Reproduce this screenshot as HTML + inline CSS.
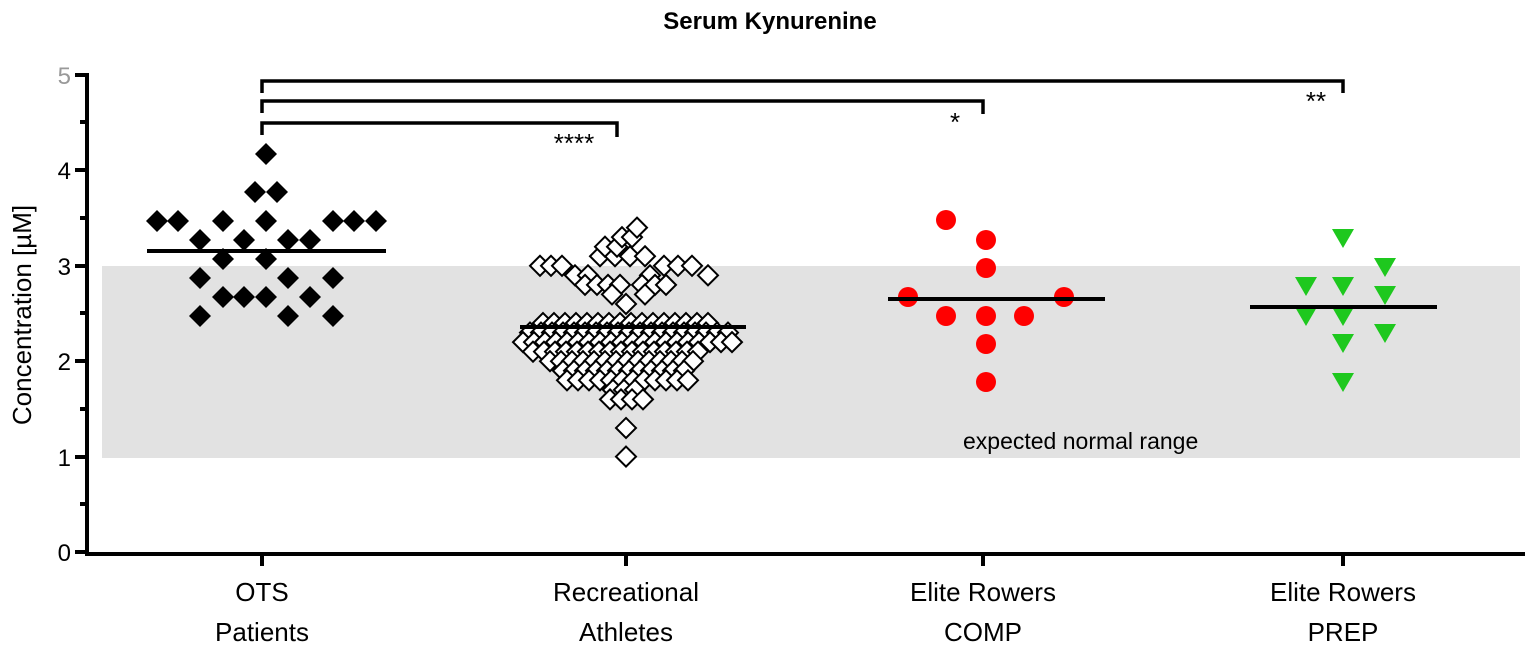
<!DOCTYPE html>
<html><head><meta charset="utf-8"><style>body{margin:0;background:#fff}svg{display:block}text{font-family:"Liberation Sans",sans-serif}</style></head>
<body>
<svg id="s" width="1535" height="647" viewBox="0 0 1535 647" xmlns="http://www.w3.org/2000/svg">
<rect x="102" y="266" width="1418" height="192" fill="#e2e2e2"/>
<text x="770" y="29" font-size="24" font-weight="bold" text-anchor="middle">Serum Kynurenine</text>
<g stroke="#000" stroke-width="4" fill="none">
<path d="M87 73V554H1525"/>
<path d="M75 552H87M75 457H87M75 361H87M75 266H87M75 170H87M75 75H87M80 504H87M80 409H87M80 313H87M80 218H87M80 122H87"/>
<path d="M262 554V566M626 554V566M983 554V566M1343 554V566"/>
</g>
<g stroke="#000" stroke-width="3.5" fill="none">
<path d="M262 93V81H1343V93M262 113V101H983V114M262 135V123H617V137"/>
</g>
<g font-size="24" text-anchor="end"><text x="71" y="561">0</text><text x="71" y="466">1</text><text x="71" y="370">2</text><text x="71" y="275">3</text><text x="71" y="179">4</text><text x="71" y="84" fill="#999">5</text></g>
<text transform="translate(31,315) rotate(-90)" font-size="26" text-anchor="middle">Concentration [µM]</text>
<g font-size="26" text-anchor="middle">
<text x="262" y="601">OTS</text><text x="262" y="641">Patients</text>
<text x="626" y="601">Recreational</text><text x="626" y="641">Athletes</text>
<text x="983" y="601">Elite Rowers</text><text x="983" y="641">COMP</text>
<text x="1343" y="601">Elite Rowers</text><text x="1343" y="641">PREP</text>
</g>
<text x="963" y="449" font-size="23">expected normal range</text>
<g font-size="26" text-anchor="middle"><text x="574" y="152">****</text><text x="955" y="131">*</text><text x="1316" y="110">**</text></g>
<g id="pts"></g>
<g stroke="#000" stroke-width="4"><path d="M147 251H386M520 327H746M888 299H1105M1250 307H1437"/></g>
</svg>
<script>
var g=document.getElementById('pts'),h='';
function y(v){return 552-95.4*v}
function fd(x,yy){h+='<path d="M'+x+' '+(yy-11)+'l11 11l-11 11l-11-11z" fill="#000"/>';}
function od(x,yy){h+='<path d="M'+x+' '+(yy-10)+'l10 10l-10 10l-10-10z" fill="#fff" stroke="#000" stroke-width="2"/>';}
[[266,154],[255,192],[277,192]].forEach(p=>fd(p[0],p[1]));
[157,178,223,266,333,354,376].forEach(x=>fd(x,221));
[200,244,288,310].forEach(x=>fd(x,240));
[223,266].forEach(x=>fd(x,259));
[200,288,333].forEach(x=>fd(x,278));
[223,244,266,310].forEach(x=>fd(x,297));
[200,288,333].forEach(x=>fd(x,316));
var rows=[[2.4,543,710],[2.3,530,730],[2.2,523,740],[2.1,533,707],[2.0,550,697],[1.9,563,687],[1.8,567,687],[1.7,613,640],[1.6,610,643]];
rows.forEach(r=>{for(var x=r[1];x<=r[2]+1;x+=11)od(x,y(r[0]));});
od(626,y(1.3));od(626,y(1.0));
[[540,3.0],[551,3.0],[562,3.0],[664,3.0],[678,3.0],[692,3.0],[575,2.9],[588,2.9],[650,2.9],[708,2.9],[585,2.8],[597,2.8],[608,2.8],[620,2.8],[642,2.8],[655,2.8],[666,2.8],[600,3.1],[615,3.1],[630,3.1],[645,3.1],[605,3.2],[617,3.2],[622,3.3],[632,3.3],[637,3.4],[612,2.7],[645,2.7],[626,2.6]].forEach(p=>od(p[0],y(p[1])));
[[946,220],[986,240],[986,268],[908,297],[1064,297],[946,316],[986,316],[1024,316],[986,344],[986,382]].forEach(p=>{h+='<circle cx="'+p[0]+'" cy="'+p[1]+'" r="10" fill="#f00"/>';});
[[1343,238],[1385,267],[1306,286],[1343,286],[1385,295],[1306,316],[1343,316],[1385,333],[1343,343],[1343,382]].forEach(p=>{h+='<path d="M'+(p[0]-11)+' '+(p[1]-9)+'h22l-11 19z" fill="#1ec81e"/>';});
g.innerHTML=h;
</script>
</body></html>
